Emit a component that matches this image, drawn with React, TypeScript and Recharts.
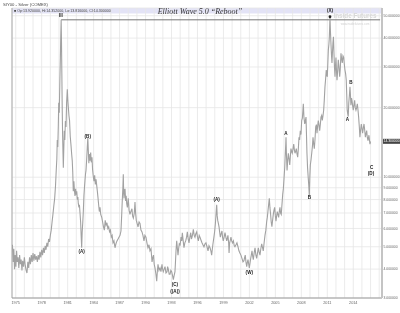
import React from 'react';
import { LineChart, Line, XAxis, YAxis, CartesianGrid, ReferenceLine, ReferenceDot } from 'recharts';

// [decimal year, weekly close]
const silver1970s: [number, number][] = [
  [1974.62, 5.1], [1974.7, 4.3], [1974.78, 4.9], [1974.86, 4.0], [1974.94, 4.6], [1975.02, 4.1], [1975.1, 4.8], [1975.18, 4.3],
  [1975.27, 4.5], [1975.36, 4.05], [1975.45, 4.6], [1975.54, 4.2], [1975.63, 4.4], [1975.72, 3.95], [1975.8, 4.35], [1975.9, 4.1],
  [1976.0, 4.5], [1976.1, 4.15], [1976.2, 3.95], [1976.3, 3.85], [1976.4, 4.3], [1976.5, 4.05], [1976.6, 4.5], [1976.7, 4.2],
  [1976.8, 4.6], [1976.9, 4.3], [1977.0, 4.7], [1977.1, 4.35], [1977.2, 4.65], [1977.3, 4.4], [1977.4, 4.55], [1977.5, 4.3],
  [1977.6, 4.6], [1977.7, 4.4], [1977.8, 4.75], [1977.9, 4.5], [1978.0, 4.85], [1978.1, 4.6], [1978.2, 4.95], [1978.3, 4.7],
  [1978.4, 5.05], [1978.5, 4.85], [1978.6, 5.2], [1978.7, 5.0], [1978.8, 5.4], [1978.9, 5.25], [1979.0, 5.6], [1979.1, 5.9],
  [1979.2, 6.4], [1979.3, 6.9], [1979.4, 7.5], [1979.5, 8.1], [1979.6, 9.2], [1979.68, 10.7], [1979.75, 12.0], [1979.8, 14.5],
  [1979.86, 13.5], [1979.92, 16.7], [1979.97, 21.0],
];

const silver1980s: [number, number][] = [
  [1980.03, 19.0], [1980.1, 26.0], [1980.16, 33.0], [1980.2, 40.0], [1980.25, 48.0], [1980.29, 38.0], [1980.33, 28.0],
  [1980.37, 20.0], [1980.42, 15.0], [1980.5, 11.0], [1980.56, 13.5], [1980.61, 15.9], [1980.67, 14.5], [1980.74, 17.5],
  [1980.81, 16.5], [1980.88, 21.0], [1980.96, 24.0], [1981.02, 21.5], [1981.08, 20.0], [1981.15, 18.5], [1981.22, 17.6],
  [1981.3, 15.0], [1981.39, 13.7], [1981.47, 12.5], [1981.53, 11.8], [1981.59, 10.5], [1981.65, 8.7], [1981.72, 9.6],
  [1981.78, 8.8], [1981.85, 8.3], [1981.92, 8.9], [1981.98, 8.4], [1982.05, 8.7], [1982.12, 8.0], [1982.18, 8.2],
  [1982.23, 7.7], [1982.3, 7.4], [1982.36, 7.6], [1982.43, 7.0], [1982.5, 6.4], [1982.56, 5.6], [1982.62, 4.95],
  [1982.68, 5.8], [1982.75, 6.4], [1982.81, 7.1], [1982.88, 8.3], [1982.94, 9.0], [1983.0, 9.65], [1983.06, 10.3],
  [1983.12, 10.7], [1983.2, 12.0], [1983.27, 13.5], [1983.33, 14.8], [1983.39, 13.0], [1983.45, 11.5], [1983.5, 12.6],
  [1983.58, 11.8], [1983.66, 12.8], [1983.73, 11.6], [1983.81, 12.2], [1983.88, 10.8], [1983.96, 10.1], [1984.04, 9.6],
  [1984.12, 10.2], [1984.2, 9.3], [1984.28, 9.8], [1984.36, 9.2], [1984.43, 8.7], [1984.5, 8.2], [1984.58, 7.6],
  [1984.66, 7.1], [1984.74, 7.4], [1984.82, 6.9], [1984.94, 6.7], [1985.04, 6.4], [1985.14, 6.1], [1985.24, 5.9],
  [1985.34, 6.5], [1985.44, 6.2], [1985.54, 6.35], [1985.64, 6.0], [1985.74, 6.1], [1985.84, 5.8], [1985.94, 5.9],
  [1986.04, 5.5], [1986.14, 5.6], [1986.24, 5.2], [1986.35, 5.3], [1986.47, 4.95], [1986.58, 5.15], [1986.7, 5.3],
  [1986.82, 5.4], [1986.93, 5.5], [1987.05, 5.6], [1987.16, 5.85], [1987.24, 6.8], [1987.31, 7.9], [1987.38, 9.0],
  [1987.43, 10.3], [1987.47, 8.6], [1987.51, 8.1], [1987.57, 8.8], [1987.63, 8.9], [1987.7, 7.9], [1987.76, 8.3],
  [1987.82, 7.7], [1987.9, 7.4], [1988.0, 8.1], [1988.1, 7.2], [1988.2, 6.9], [1988.3, 7.1], [1988.43, 7.3],
  [1988.5, 6.8], [1988.59, 6.65], [1988.7, 7.0], [1988.78, 7.8], [1988.85, 7.0], [1988.93, 6.5], [1989.03, 6.3],
  [1989.13, 6.1], [1989.25, 6.4], [1989.36, 6.3], [1989.47, 5.9], [1989.59, 5.8], [1989.7, 5.6], [1989.82, 5.3],
  [1989.93, 5.6],
];

const silver1990s: [number, number][] = [
  [1990.05, 5.5], [1990.16, 5.2], [1990.28, 4.95], [1990.4, 5.1], [1990.51, 4.8], [1990.63, 4.9], [1990.75, 4.3],
  [1990.84, 4.5], [1990.92, 4.6], [1991.0, 4.2], [1991.09, 4.05], [1991.2, 3.8], [1991.29, 3.55], [1991.36, 3.9],
  [1991.44, 4.2], [1991.55, 3.95], [1991.67, 4.05], [1991.78, 3.9], [1991.9, 4.2], [1991.97, 4.0], [1992.05, 3.9],
  [1992.15, 4.0], [1992.25, 4.1], [1992.36, 3.85], [1992.48, 3.9], [1992.55, 4.1], [1992.63, 4.0], [1992.73, 3.8],
  [1992.83, 3.8], [1992.92, 3.95], [1993.02, 3.9], [1993.12, 3.75], [1993.21, 3.6], [1993.3, 3.75], [1993.4, 3.9],
  [1993.46, 4.3], [1993.52, 4.8], [1993.6, 5.3], [1993.68, 4.9], [1993.75, 4.6], [1993.82, 4.9], [1993.9, 5.15],
  [1994.0, 5.1], [1994.1, 5.5], [1994.18, 5.3], [1994.25, 5.75], [1994.35, 5.3], [1994.44, 4.95], [1994.54, 5.2],
  [1994.64, 5.3], [1994.74, 5.5], [1994.83, 5.8], [1994.93, 5.4], [1995.02, 5.2], [1995.12, 5.5], [1995.22, 5.75],
  [1995.3, 5.4], [1995.37, 5.5], [1995.45, 5.7], [1995.52, 5.95], [1995.62, 5.6], [1995.71, 5.5], [1995.81, 5.7],
  [1995.91, 5.8], [1996.0, 5.5], [1996.1, 5.3], [1996.2, 5.6], [1996.29, 5.5], [1996.4, 5.35], [1996.52, 5.2],
  [1996.63, 5.1], [1996.75, 5.0], [1996.87, 5.15], [1996.98, 5.2], [1997.1, 5.0], [1997.22, 4.8], [1997.33, 5.05],
  [1997.45, 4.95], [1997.55, 4.8], [1997.64, 4.6], [1997.72, 4.9], [1997.79, 5.15], [1997.9, 5.5], [1997.99, 5.85],
  [1998.07, 6.3], [1998.14, 6.9], [1998.22, 7.6], [1998.28, 6.8], [1998.34, 6.5], [1998.42, 6.3], [1998.49, 6.1],
  [1998.56, 5.8], [1998.64, 5.5], [1998.74, 5.7], [1998.83, 5.85], [1998.9, 5.5], [1998.98, 5.3], [1999.08, 5.5],
  [1999.18, 5.75], [1999.28, 5.5], [1999.38, 5.3], [1999.45, 5.45], [1999.52, 5.6], [1999.6, 5.2], [1999.65, 4.7],
  [1999.72, 5.2], [1999.8, 5.35], [1999.87, 5.5], [1999.95, 5.3],
];

const silver2000s: [number, number][] = [
  [2000.05, 5.2], [2000.15, 5.3], [2000.25, 5.05], [2000.33, 5.0], [2000.45, 5.1], [2000.56, 5.2], [2000.68, 5.0],
  [2000.79, 4.8], [2000.9, 4.7], [2001.02, 4.6], [2001.14, 4.45], [2001.26, 4.3], [2001.37, 4.35], [2001.45, 4.5],
  [2001.52, 4.6], [2001.6, 4.3], [2001.69, 4.1], [2001.77, 4.3], [2001.84, 4.4], [2001.92, 4.2], [2001.99, 4.05],
  [2002.07, 4.25], [2002.15, 4.45], [2002.22, 4.6], [2002.3, 4.8], [2002.38, 4.55], [2002.45, 4.4], [2002.55, 4.7],
  [2002.65, 4.95], [2002.75, 4.6], [2002.84, 4.45], [2002.94, 4.7], [2003.03, 4.95], [2003.12, 4.75], [2003.22, 4.6],
  [2003.32, 4.9], [2003.42, 5.15], [2003.52, 4.95], [2003.6, 4.8], [2003.7, 5.2], [2003.8, 5.6], [2003.9, 5.9],
  [2004.0, 6.45], [2004.07, 6.7], [2004.14, 7.1], [2004.22, 7.6], [2004.3, 8.1], [2004.37, 7.4], [2004.45, 6.9],
  [2004.52, 6.4], [2004.6, 6.1], [2004.68, 6.5], [2004.76, 6.9], [2004.84, 7.2], [2004.92, 7.4], [2005.0, 6.8],
  [2005.07, 6.45], [2005.15, 6.8], [2005.22, 7.1], [2005.3, 6.9], [2005.38, 6.7], [2005.45, 7.1], [2005.53, 7.4],
  [2005.6, 7.0], [2005.68, 6.9], [2005.76, 7.6], [2005.85, 8.45], [2005.92, 8.9], [2006.0, 9.9], [2006.08, 11.0],
  [2006.15, 12.7], [2006.2, 13.9], [2006.23, 14.9], [2006.28, 12.5], [2006.35, 10.7], [2006.42, 11.8], [2006.5, 12.7],
  [2006.58, 12.0], [2006.66, 11.3], [2006.73, 12.3], [2006.8, 13.3], [2006.88, 12.9], [2006.95, 12.7], [2007.03, 13.2],
  [2007.12, 13.9], [2007.2, 13.1], [2007.27, 12.7], [2007.35, 13.0], [2007.42, 13.3], [2007.5, 12.6], [2007.58, 12.2],
  [2007.66, 13.4], [2007.73, 14.9], [2007.8, 14.5], [2007.88, 15.9], [2007.96, 15.3], [2008.04, 17.6], [2008.12, 18.0],
  [2008.18, 19.4], [2008.23, 20.8], [2008.3, 18.2], [2008.39, 17.0], [2008.46, 17.5], [2008.54, 18.2], [2008.6, 15.0],
  [2008.65, 12.7], [2008.72, 11.0], [2008.8, 9.9], [2008.86, 9.2], [2008.92, 8.3], [2008.98, 10.0], [2009.04, 11.3],
  [2009.12, 11.9], [2009.2, 12.7], [2009.28, 13.6], [2009.35, 14.9], [2009.42, 14.0], [2009.5, 13.3], [2009.58, 14.6],
  [2009.66, 16.5], [2009.74, 16.9], [2009.81, 15.5], [2009.88, 16.6], [2009.96, 17.6],
];

const silver2010s: [number, number][] = [
  [2010.04, 16.8], [2010.12, 15.9], [2010.2, 17.0], [2010.27, 18.2], [2010.35, 18.5], [2010.42, 17.6], [2010.5, 18.4],
  [2010.58, 19.5], [2010.65, 21.5], [2010.73, 24.6], [2010.8, 26.5], [2010.88, 29.1], [2010.94, 28.0], [2011.0, 27.2],
  [2011.06, 31.0], [2011.12, 35.5], [2011.18, 37.5], [2011.23, 40.0], [2011.27, 44.0], [2011.31, 49.5], [2011.36, 43.0],
  [2011.42, 38.0], [2011.48, 34.0], [2011.54, 31.2], [2011.6, 35.0], [2011.65, 38.0], [2011.71, 40.5], [2011.77, 34.4],
  [2011.83, 30.0], [2011.89, 27.2], [2011.95, 30.5], [2012.0, 33.0], [2012.06, 29.0], [2012.12, 26.3], [2012.2, 29.0],
  [2012.27, 32.2], [2012.35, 30.0], [2012.43, 27.2], [2012.5, 29.5], [2012.58, 34.4], [2012.66, 32.5], [2012.73, 31.2],
  [2012.81, 33.5], [2012.89, 33.0], [2012.96, 31.0], [2013.04, 29.1], [2013.12, 28.0], [2013.19, 26.3], [2013.25, 22.5],
  [2013.3, 19.5], [2013.36, 18.8], [2013.42, 18.3], [2013.48, 21.0], [2013.55, 22.5], [2013.62, 24.6], [2013.68, 22.5],
  [2013.73, 20.5], [2013.8, 22.0], [2013.85, 21.5], [2013.92, 20.5], [2014.0, 19.5], [2014.08, 20.5], [2014.16, 21.5],
  [2014.23, 20.0], [2014.31, 19.5], [2014.39, 20.0], [2014.47, 20.8], [2014.55, 19.5], [2014.62, 18.2], [2014.7, 16.5],
  [2014.77, 14.9], [2014.85, 16.0], [2014.93, 17.0], [2015.0, 16.3], [2015.08, 15.5], [2015.16, 16.3], [2015.24, 17.0],
  [2015.32, 16.0], [2015.4, 14.9], [2015.47, 15.4], [2015.55, 15.9], [2015.62, 14.9], [2015.7, 14.4], [2015.76, 14.8],
  [2015.81, 15.2], [2015.88, 14.4], [2015.93, 13.9], [2016.0, 14.3],
];

const labelYears = [1975, 1978, 1981, 1984, 1987, 1990, 1993, 1996, 1999, 2002, 2005, 2008, 2011, 2014];
const gridYears = Array.from({ length: 43 }, (_, i) => 1975 + i);
const priceTicks = [3, 4, 5, 6, 7, 8, 9, 10, 20, 30, 40, 50];
const lastClose = 14.3;

const waveLabels: { text: string; t: number; v: number }[] = [
  { text: 'III', t: 1980.23, v: 49.9 },
  { text: '(A)', t: 1982.62, v: 4.79 },
  { text: '(B)', t: 1983.32, v: 15.0 },
  { text: '(C)', t: 1993.4, v: 3.44 },
  { text: '((A))', t: 1993.4, v: 3.19 },
  { text: '(A)', t: 1998.22, v: 7.97 },
  { text: '(W)', t: 2001.99, v: 3.88 },
  { text: 'A', t: 2006.23, v: 15.5 },
  { text: 'B', t: 2008.92, v: 8.19 },
  { text: '(X)', t: 2011.31, v: 52.6 },
  { text: 'A', t: 2013.31, v: 17.8 },
  { text: 'B', t: 2013.74, v: 25.65 },
  { text: 'C', t: 2016.13, v: 11.04 },
  { text: '(D)', t: 2016.05, v: 10.33 },
];

const data = [...silver1970s, ...silver1980s, ...silver1990s, ...silver2000s, ...silver2010s].map(([t, v]) => ({ t, v }));

const X_MIN = 1974.57;
const X_MAX = 2017.32;
const FONT = 'Liberation Sans, Arial, sans-serif';

export default function App() {
  return (
    <div style={{ position: 'absolute', left: 0, top: 0, width: 400, height: 313, background: '#fff', fontFamily: FONT }}>
      <svg width={400} height={313} style={{ position: 'absolute', left: 0, top: 0 }}>
        <rect x={12} y={8} width={370} height={5.5} fill="#e3e3f6" />
      </svg>
      <div style={{ position: 'absolute', left: 0, top: 0, width: 400, height: 313, filter: 'grayscale(1)' }}>
        <LineChart width={400} height={313} data={data} margin={{ top: 8, right: 0, left: 12, bottom: 0 }}>
          <CartesianGrid stroke="#e6e6e6" strokeWidth={0.8} />
          <XAxis
            type="number"
            dataKey="t"
            domain={[X_MIN, X_MAX]}
            allowDataOverflow
            ticks={gridYears}
            interval={0}
            tickFormatter={(y: number) => (labelYears.includes(y) ? String(y) : '')}
            tick={{ fontSize: 3.8, fill: '#666', fontFamily: FONT }}
            tickLine={false}
            tickSize={0}
            tickMargin={3}
            axisLine={{ stroke: '#999' }}
            height={15}
          />
          <YAxis
            orientation="right"
            type="number"
            scale="log"
            domain={[3, 54]}
            allowDataOverflow
            ticks={priceTicks}
            interval={0}
            tickFormatter={(v: number) => v.toFixed(6)}
            tick={{ fontSize: 3.4, fill: '#666', fontFamily: FONT }}
            tickLine={false}
            tickSize={0}
            tickMargin={1.5}
            axisLine={{ stroke: '#c4c4c4', strokeWidth: 2 }}
            width={18}
          />
          <ReferenceLine x={X_MIN} stroke="#aaa" />
          <ReferenceLine segment={[{ x: 1980.25, y: 48 }, { x: 2017.1, y: 48 }]} stroke="#777" strokeWidth={1} />
          <Line type="linear" dataKey="v" stroke="#a2a2a2" strokeWidth={1.1} dot={false} isAnimationActive={false} />
          <ReferenceDot x={2011.31} y={49.5} r={1.4} fill="#222" stroke="none" />
          {waveLabels.map((w, i) => (
            <ReferenceDot
              key={i}
              x={w.t}
              y={w.v}
              r={1}
              shape={(p: any) => (
                <text x={p.cx} y={p.cy} textAnchor="middle" dominantBaseline="central" fontSize={4.6} fontWeight={700} fill="#1a1a1a" fontFamily={FONT}>
                  {w.text}
                </text>
              )}
            />
          ))}
          <ReferenceDot
            x={X_MAX}
            y={lastClose}
            r={1}
            shape={(p: any) => (
              <g>
                <rect x={p.cx + 1} y={p.cy - 2.5} width={17} height={5} fill="#444" />
                <text x={p.cx + 1.5} y={p.cy} dominantBaseline="central" fontSize={3.4} fill="#fff" fontFamily={FONT}>
                  {lastClose.toFixed(6)}
                </text>
              </g>
            )}
          />
        </LineChart>
        <svg width={400} height={313} style={{ position: 'absolute', left: 0, top: 0, pointerEvents: 'none' }}>
          <text x={3} y={5.5} fontSize={4.2} fill="#444" fontFamily={FONT}>SIY00 - Silver (COMEX)</text>
          <text x={14} y={12} fontSize={3.6} fill="#444" fontFamily={FONT}>■ Op:13.920000, Hi:14.352000, Lo:13.816000, Cl:14.300000</text>
          <text x={200} y={14} textAnchor="middle" fontSize={8} fontStyle="italic" fill="#333" fontFamily="Liberation Serif, serif">Elliott Wave 5.0 “Reboot”</text>
          <text x={355} y={18} textAnchor="middle" fontSize={6.3} fontWeight={700} fill="#d8d8d8" fontFamily={FONT}>Inside Futures</text>
          <text x={355} y={25} textAnchor="middle" fontSize={2.8} fill="#d0d0d0" fontFamily={FONT}>www.insidefutures.com</text>
        </svg>
      </div>
    </div>
  );
}
